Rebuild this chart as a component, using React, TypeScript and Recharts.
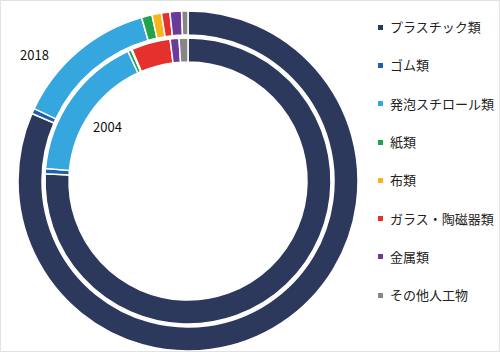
import { PieChart, Pie, Cell } from "recharts";

const categories = [
  "プラスチック類",
  "ゴム類",
  "発泡スチロール類",
  "紙類",
  "布類",
  "ガラス・陶磁器類",
  "金属類",
  "その他人工物",
];
const colors = ["#2d395c", "#1f5fae", "#35a6de", "#22a24a", "#f6b51b", "#e5302c", "#6a3b98", "#868686"];

// share (%) per category
const values2018 = [81.5, 0.5, 13.6, 1.0, 0.9, 0.8, 1.1, 0.6];
const values2004 = [75.8, 0.6, 16.7, 0.4, 0.1, 4.4, 1.0, 1.0];

const outerData = categories.map((name, i) => ({ name, value: values2018[i] }));
const innerData = categories.map((name, i) => ({ name, value: values2004[i] }));

const font = "'Noto Sans CJK JP', 'Noto Sans', sans-serif";

export default function App() {
  return (
    <div
      style={{
        position: "absolute",
        left: 0,
        top: 0,
        width: 500,
        height: 352,
        boxSizing: "border-box",
        border: "1px solid #e2e2e2",
        background: "#fff",
        fontFamily: font,
      }}
    >
      <PieChart width={498} height={350} style={{ position: "absolute", left: 0, top: 0 }}>
        <Pie
          data={outerData}
          dataKey="value"
          cx={182}
          cy={175}
          startAngle={90}
          endAngle={-270}
          outerRadius={170}
          innerRadius={146}
          stroke="#fff"
          strokeWidth={1.5}
          isAnimationActive={false}
        >
          {outerData.map((d, i) => (
            <Cell key={d.name} fill={colors[i]} />
          ))}
        </Pie>
        <Pie
          data={innerData}
          dataKey="value"
          cx={182}
          cy={175}
          startAngle={90}
          endAngle={-270}
          outerRadius={143}
          innerRadius={119}
          stroke="#fff"
          strokeWidth={1.5}
          isAnimationActive={false}
        >
          {innerData.map((d, i) => (
            <Cell key={d.name} fill={colors[i]} />
          ))}
        </Pie>
      </PieChart>
      <div style={{ position: "absolute", left: 19, top: 44, fontSize: 13, color: "#111" }}>2018</div>
      <div style={{ position: "absolute", left: 92, top: 116, fontSize: 13, color: "#111" }}>2004</div>
      <div style={{ position: "absolute", left: 377, top: 7 }}>
        {categories.map((name, i) => (
          <div
            key={name}
            style={{ display: "flex", alignItems: "center", height: 38.3, fontSize: 13, color: "#222" }}
          >
            <span style={{ width: 5, height: 5, background: colors[i], marginRight: 7, flexShrink: 0 }} />
            <span style={{ lineHeight: "16px" }}>{name}</span>
          </div>
        ))}
      </div>
    </div>
  );
}
